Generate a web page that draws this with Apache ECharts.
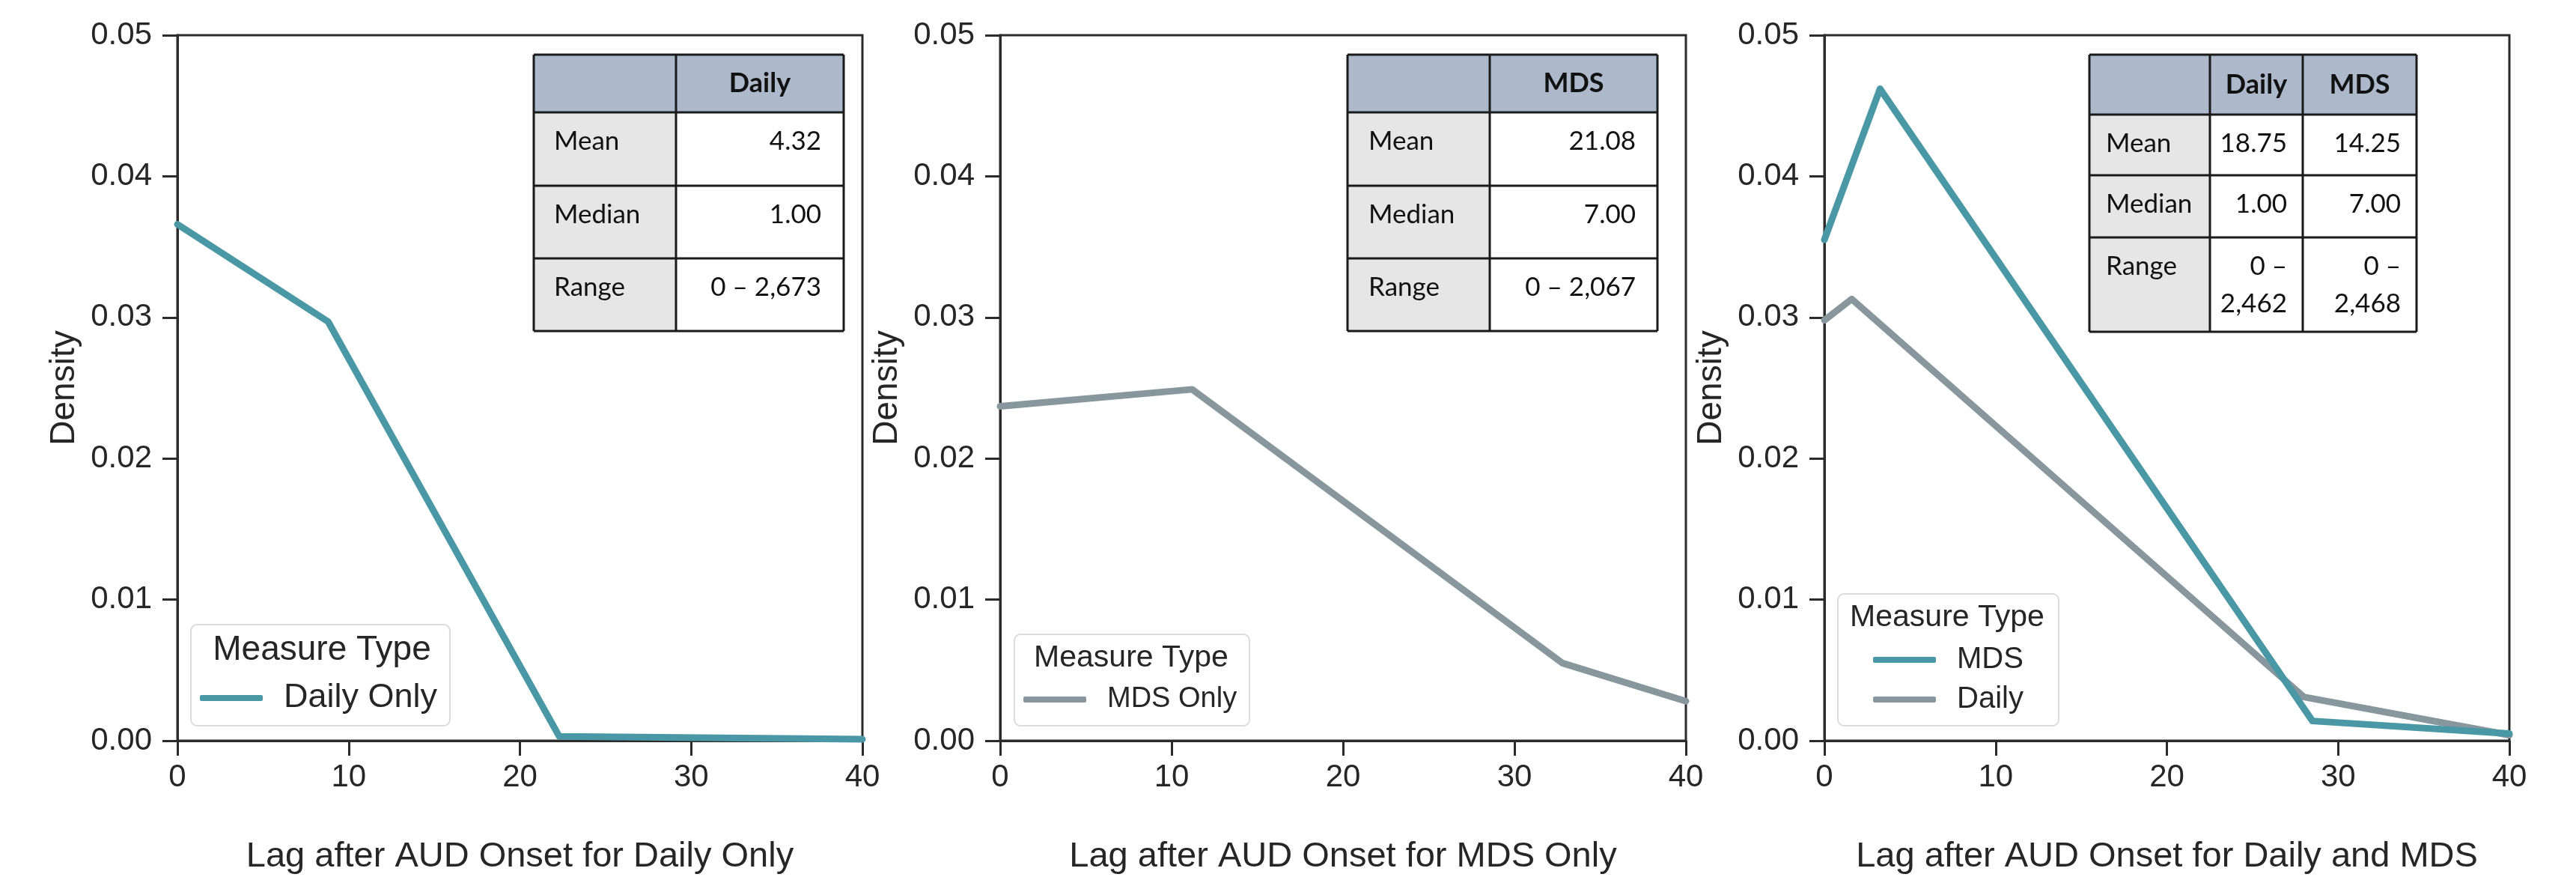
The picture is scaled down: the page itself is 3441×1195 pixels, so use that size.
<!DOCTYPE html>
<html>
<head>
<meta charset="utf-8">
<title>Lag after AUD onset</title>
<script src="https://cdn.jsdelivr.net/npm/echarts@6/dist/echarts.min.js"></script>
<style>
html, body { margin: 0; padding: 0; background: #fff; }
#chart { width: 3441px; height: 1195px; }
</style>
</head>
<body>
<div id="chart"></div>
<script>
// Values
var dailyOnlyLag = [0, 8.8, 22.3, 40];
var dailyOnlyDensity = [0.0366, 0.0297, 0.0003, 0.0001];

var mdsOnlyLag = [0, 11.2, 32.8, 40];
var mdsOnlyDensity = [0.0237, 0.0249, 0.0055, 0.0028];

var bothMdsLag = [0, 3.25, 28.5, 40];
var bothMdsDensity = [0.0355, 0.0462, 0.0014, 0.0005];
var bothDailyLag = [0, 1.6, 28.0, 40];
var bothDailyDensity = [0.0298, 0.0313, 0.0031, 0.0004];

var xTitles = [
    'Lag after AUD Onset for Daily Only',
    'Lag after AUD Onset for MDS Only',
    'Lag after AUD Onset for Daily and MDS'
];
var legendTitle = 'Measure Type';

// Summary tables
var table1Head = ['', 'Daily'];
var table1Rows = [['Mean', '4.32'], ['Median', '1.00'], ['Range', '0 \u2013 2,673']];
var table2Head = ['', 'MDS'];
var table2Rows = [['Mean', '21.08'], ['Median', '7.00'], ['Range', '0 \u2013 2,067']];
var table3Head = ['', 'Daily', 'MDS'];
var table3Rows = [['Mean', '18.75', '14.25'], ['Median', '1.00', '7.00'], ['Range', '0 \u2013\n2,462', '0 \u2013\n2,468']];

var TEAL = '#4a97a5';
var GREY = '#88969d';
var AXIS = '#2b2b2b';
var FONT = '"Liberation Sans", Arial, sans-serif';
var TFONT = 'Lato, "Open Sans", sans-serif';

function pairs(xs, ys) {
    var out = [];
    for (var i = 0; i < xs.length; i++) out.push([xs[i], ys[i]]);
    return out;
}

var grids = [
    { left: 237, top: 47, width: 915, height: 942, show: true, borderColor: AXIS, borderWidth: 3 },
    { left: 1336, top: 47, width: 916, height: 942, show: true, borderColor: AXIS, borderWidth: 3 },
    { left: 2437, top: 47, width: 915, height: 942, show: true, borderColor: AXIS, borderWidth: 3 }
];

function xAxisFor(i) {
    return {
        type: 'value', gridIndex: i, min: 0, max: 40, interval: 10,
        name: xTitles[i], nameLocation: 'middle', nameGap: 132,
        nameTextStyle: { fontFamily: FONT, fontSize: 47, color: '#262626' },
        axisLine: { show: true, lineStyle: { color: AXIS, width: 3 } },
        axisTick: { show: true, length: 20, lineStyle: { color: AXIS, width: 3 } },
        axisLabel: { margin: 28, fontFamily: FONT, fontSize: 42, color: '#262626' },
        splitLine: { show: false }
    };
}
function yAxisFor(i) {
    return {
        type: 'value', gridIndex: i, min: 0, max: 0.05, interval: 0.01,
        name: 'Density', nameLocation: 'middle', nameGap: 128,
        nameTextStyle: { fontFamily: FONT, fontSize: 46, color: '#262626' },
        axisLine: { show: true, lineStyle: { color: AXIS, width: 3 } },
        axisTick: { show: true, length: 20, lineStyle: { color: AXIS, width: 3 } },
        axisLabel: {
            margin: 34, fontFamily: FONT, fontSize: 42, color: '#262626',
            formatter: function (v) { return v.toFixed(2); }
        },
        splitLine: { show: false }
    };
}

function lineSeries(name, idx, data, color) {
    return {
        name: name, type: 'line', xAxisIndex: idx, yAxisIndex: idx,
        data: data, showSymbol: false, symbol: 'none', z: 2,
        lineStyle: { color: color, width: 9, cap: 'round', join: 'round' },
        itemStyle: { color: color },
        emphasis: { disabled: true }
    };
}

// table drawn as graphic rects, lines and texts
function makeTable(head, rows, left, colW, rowY, padL, padR) {
    var els = [];
    var right = left;
    var colX = [left];
    for (var c = 0; c < colW.length; c++) { right += colW[c]; colX.push(right); }
    var top = rowY[0], bottom = rowY[rowY.length - 1];
    els.push({ type: 'rect', z: 5, shape: { x: left, y: top, width: right - left, height: rowY[1] - top }, style: { fill: '#adb9ca' } });
    els.push({ type: 'rect', z: 5, shape: { x: left, y: rowY[1], width: colW[0], height: bottom - rowY[1] }, style: { fill: '#e7e6e6' } });
    els.push({ type: 'rect', z: 5, shape: { x: colX[1], y: rowY[1], width: right - colX[1], height: bottom - rowY[1] }, style: { fill: '#ffffff' } });
    for (var h = 1; h < head.length; h++) {
        els.push({
            type: 'text', z: 7, x: (colX[h] + colX[h + 1]) / 2, y: (rowY[0] + rowY[1]) / 2,
            style: { text: head[h], font: 'bold 36px ' + TFONT, fill: '#111', align: 'center', verticalAlign: 'middle' }
        });
    }
    for (var r = 0; r < rows.length; r++) {
        var ty = rowY[r + 1] + 39 - 25;
        els.push({
            type: 'text', z: 7, x: left + padL, y: ty,
            style: { text: rows[r][0], font: '35px ' + TFONT, fill: '#111', align: 'left', verticalAlign: 'top', lineHeight: 50 }
        });
        for (var k = 1; k < rows[r].length; k++) {
            els.push({
                type: 'text', z: 7, x: colX[k + 1] - padR, y: ty,
                style: { text: rows[r][k], font: '35px ' + TFONT, fill: '#111', align: 'right', verticalAlign: 'top', lineHeight: 50 }
            });
        }
    }
    for (var j = 0; j < rowY.length; j++) {
        els.push({ type: 'line', z: 6, shape: { x1: left, y1: rowY[j], x2: right, y2: rowY[j] }, style: { stroke: '#1a1a1a', lineWidth: 3 } });
    }
    for (var m = 0; m < colX.length; m++) {
        els.push({ type: 'line', z: 6, shape: { x1: colX[m], y1: top, x2: colX[m], y2: bottom }, style: { stroke: '#1a1a1a', lineWidth: 3 } });
    }
    return els;
}

function legendBox(x, y, w, h, titleX, titleY, fontSize) {
    return [
        { type: 'rect', z: 3, shape: { x: x, y: y, width: w, height: h, r: 8 }, style: { fill: 'rgba(255,255,255,0.85)', stroke: '#dcdcdc', lineWidth: 2 } },
        { type: 'text', z: 10, x: titleX, y: titleY, style: { text: legendTitle, font: fontSize + 'px ' + FONT, fill: '#262626', align: 'center', verticalAlign: 'middle' } }
    ];
}

var graphics = []
    .concat(makeTable(table1Head, table1Rows, 713, [190, 224], [73, 150, 248, 345, 442], 27, 30))
    .concat(makeTable(table2Head, table2Rows, 1800, [190, 224], [73, 150, 248, 345, 442], 28, 29))
    .concat(makeTable(table3Head, table3Rows, 2791, [161, 124, 152], [73, 153, 234, 317, 443], 22, 21))
    .concat(legendBox(255, 834, 346, 135, 430, 868, 46))
    .concat(legendBox(1355, 847, 314, 122, 1511, 879, 41))
    .concat(legendBox(2455, 793, 295, 176, 2601, 825, 41));

function legendFor(names, left, top, fontSize, lh, gap) {
    return {
        data: names, orient: 'vertical', left: left, top: top, padding: 0,
        itemWidth: 84, itemHeight: 8, itemGap: gap, icon: 'roundRect', z: 10,
        selectedMode: false,
        textStyle: { fontFamily: FONT, fontSize: fontSize, color: '#262626', lineHeight: lh, padding: [0, 0, 0, 23] }
    };
}

var myChart = echarts.init(document.getElementById('chart'), null, { renderer: 'canvas' });
myChart.setOption({
    backgroundColor: '#ffffff',
    animation: false,
    grid: grids,
    xAxis: [xAxisFor(0), xAxisFor(1), xAxisFor(2)],
    yAxis: [yAxisFor(0), yAxisFor(1), yAxisFor(2)],
    legend: [
        legendFor(['Daily Only'], 267, 909, 45, 46, 10),
        legendFor(['MDS Only'], 1367, 914, 38, 40, 10),
        legendFor(['MDS', 'Daily'], 2502, 861, 40, 40, 13)
    ],
    series: [
        lineSeries('Daily Only', 0, pairs(dailyOnlyLag, dailyOnlyDensity), TEAL),
        lineSeries('MDS Only', 1, pairs(mdsOnlyLag, mdsOnlyDensity), GREY),
        lineSeries('Daily', 2, pairs(bothDailyLag, bothDailyDensity), GREY),
        lineSeries('MDS', 2, pairs(bothMdsLag, bothMdsDensity), TEAL)
    ],
    graphic: graphics
});
</script>
</body>
</html>
